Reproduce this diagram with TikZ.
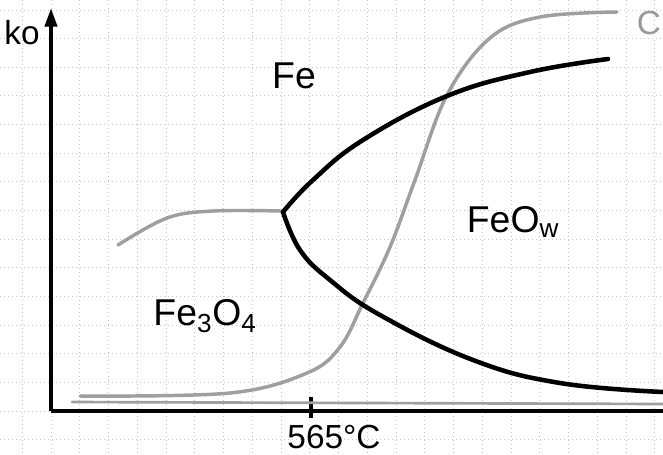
\documentclass[tikz,border=0pt]{standalone}
\usepackage{fontspec}
\setmainfont{Liberation Sans}
\usetikzlibrary{arrows.meta}
\begin{document}
\begin{tikzpicture}[x=0.75pt,y=-0.75pt,
  gridline/.style={gray!45,line width=0.6pt,dash pattern=on 0.8pt off 2.2pt},
  axis/.style={black,line width=3pt},
  phase/.style={black,line width=3.4pt,line cap=round},
  pencil/.style={gray!75,line width=2.6pt,line cap=round},
  lbl/.style={font=\fontsize{28}{30}\selectfont,inner sep=0pt},
  small/.style={font=\fontsize{25}{27}\selectfont,inner sep=0pt}]
\useasboundingbox (0,0) rectangle (663,454);
\fill[white] (0,0) rectangle (663,454);
% grid
\foreach \k in {-1,...,21} \draw[gridline] ({51+28.75*\k},0) -- ({51+28.75*\k},454);
\foreach \k in {-1,...,15} \draw[gridline] (0,{411-28.65*\k}) -- (663,{411-28.65*\k});
% axes
\coordinate (O) at (51,411);
\coordinate (ytop) at (51,8);
\coordinate (xend) at (663,411);
\draw[axis,-{Triangle[length=14pt,width=9pt]}] (O) -- (ytop);
\draw[axis] (O) -- (xend);
% tick
\coordinate (t1) at (311,397);
\coordinate (t2) at (311,418);
\draw[black,line width=3pt] (t1) -- (t2);
% gray baseline strokes
\coordinate (b1) at (72,402);
\coordinate (b2) at (663,404);
\draw[pencil,line width=2pt] (b1) -- (b2);
% Boudouard S-curve
\draw[pencil] plot[smooth,tension=0.6] coordinates {(80,396) (230,393) (307,373) (340,347) (363,303) (390,247) (415,180) (447,95) (490,38) (540,17) (617,12)};
% gray left curve
\coordinate (J) at (283,212);
\draw[pencil] plot[smooth,tension=0.6] coordinates {(118,245) (167,218) (213,211) (280,211)} -- (J);
% black upper curve
\draw[phase] plot[smooth,tension=0.7] coordinates {(J) (313,180) (363,140) (447,96) (530,72) (608,59)};
% black lower curve
\draw[phase] plot[smooth,tension=0.7] coordinates {(J) (300,250) (330,280) (380,315) (473,360) (560,383) (663,392)};
% labels
\node[lbl] (fe) at (294,76) {Fe};
\node[lbl] (feow) at (513,222) {FeO\textsubscript{w}};
\node[lbl] (fe3o4) at (205,316) {Fe\textsubscript{3}O\textsubscript{4}};
\node[small] (temp) at (334,437) {565°C};
\node[small] (ylab) at (22,33) {ko};
\node[small,text=gray!80] (c) at (649,23) {C};
\end{tikzpicture}
\end{document}
